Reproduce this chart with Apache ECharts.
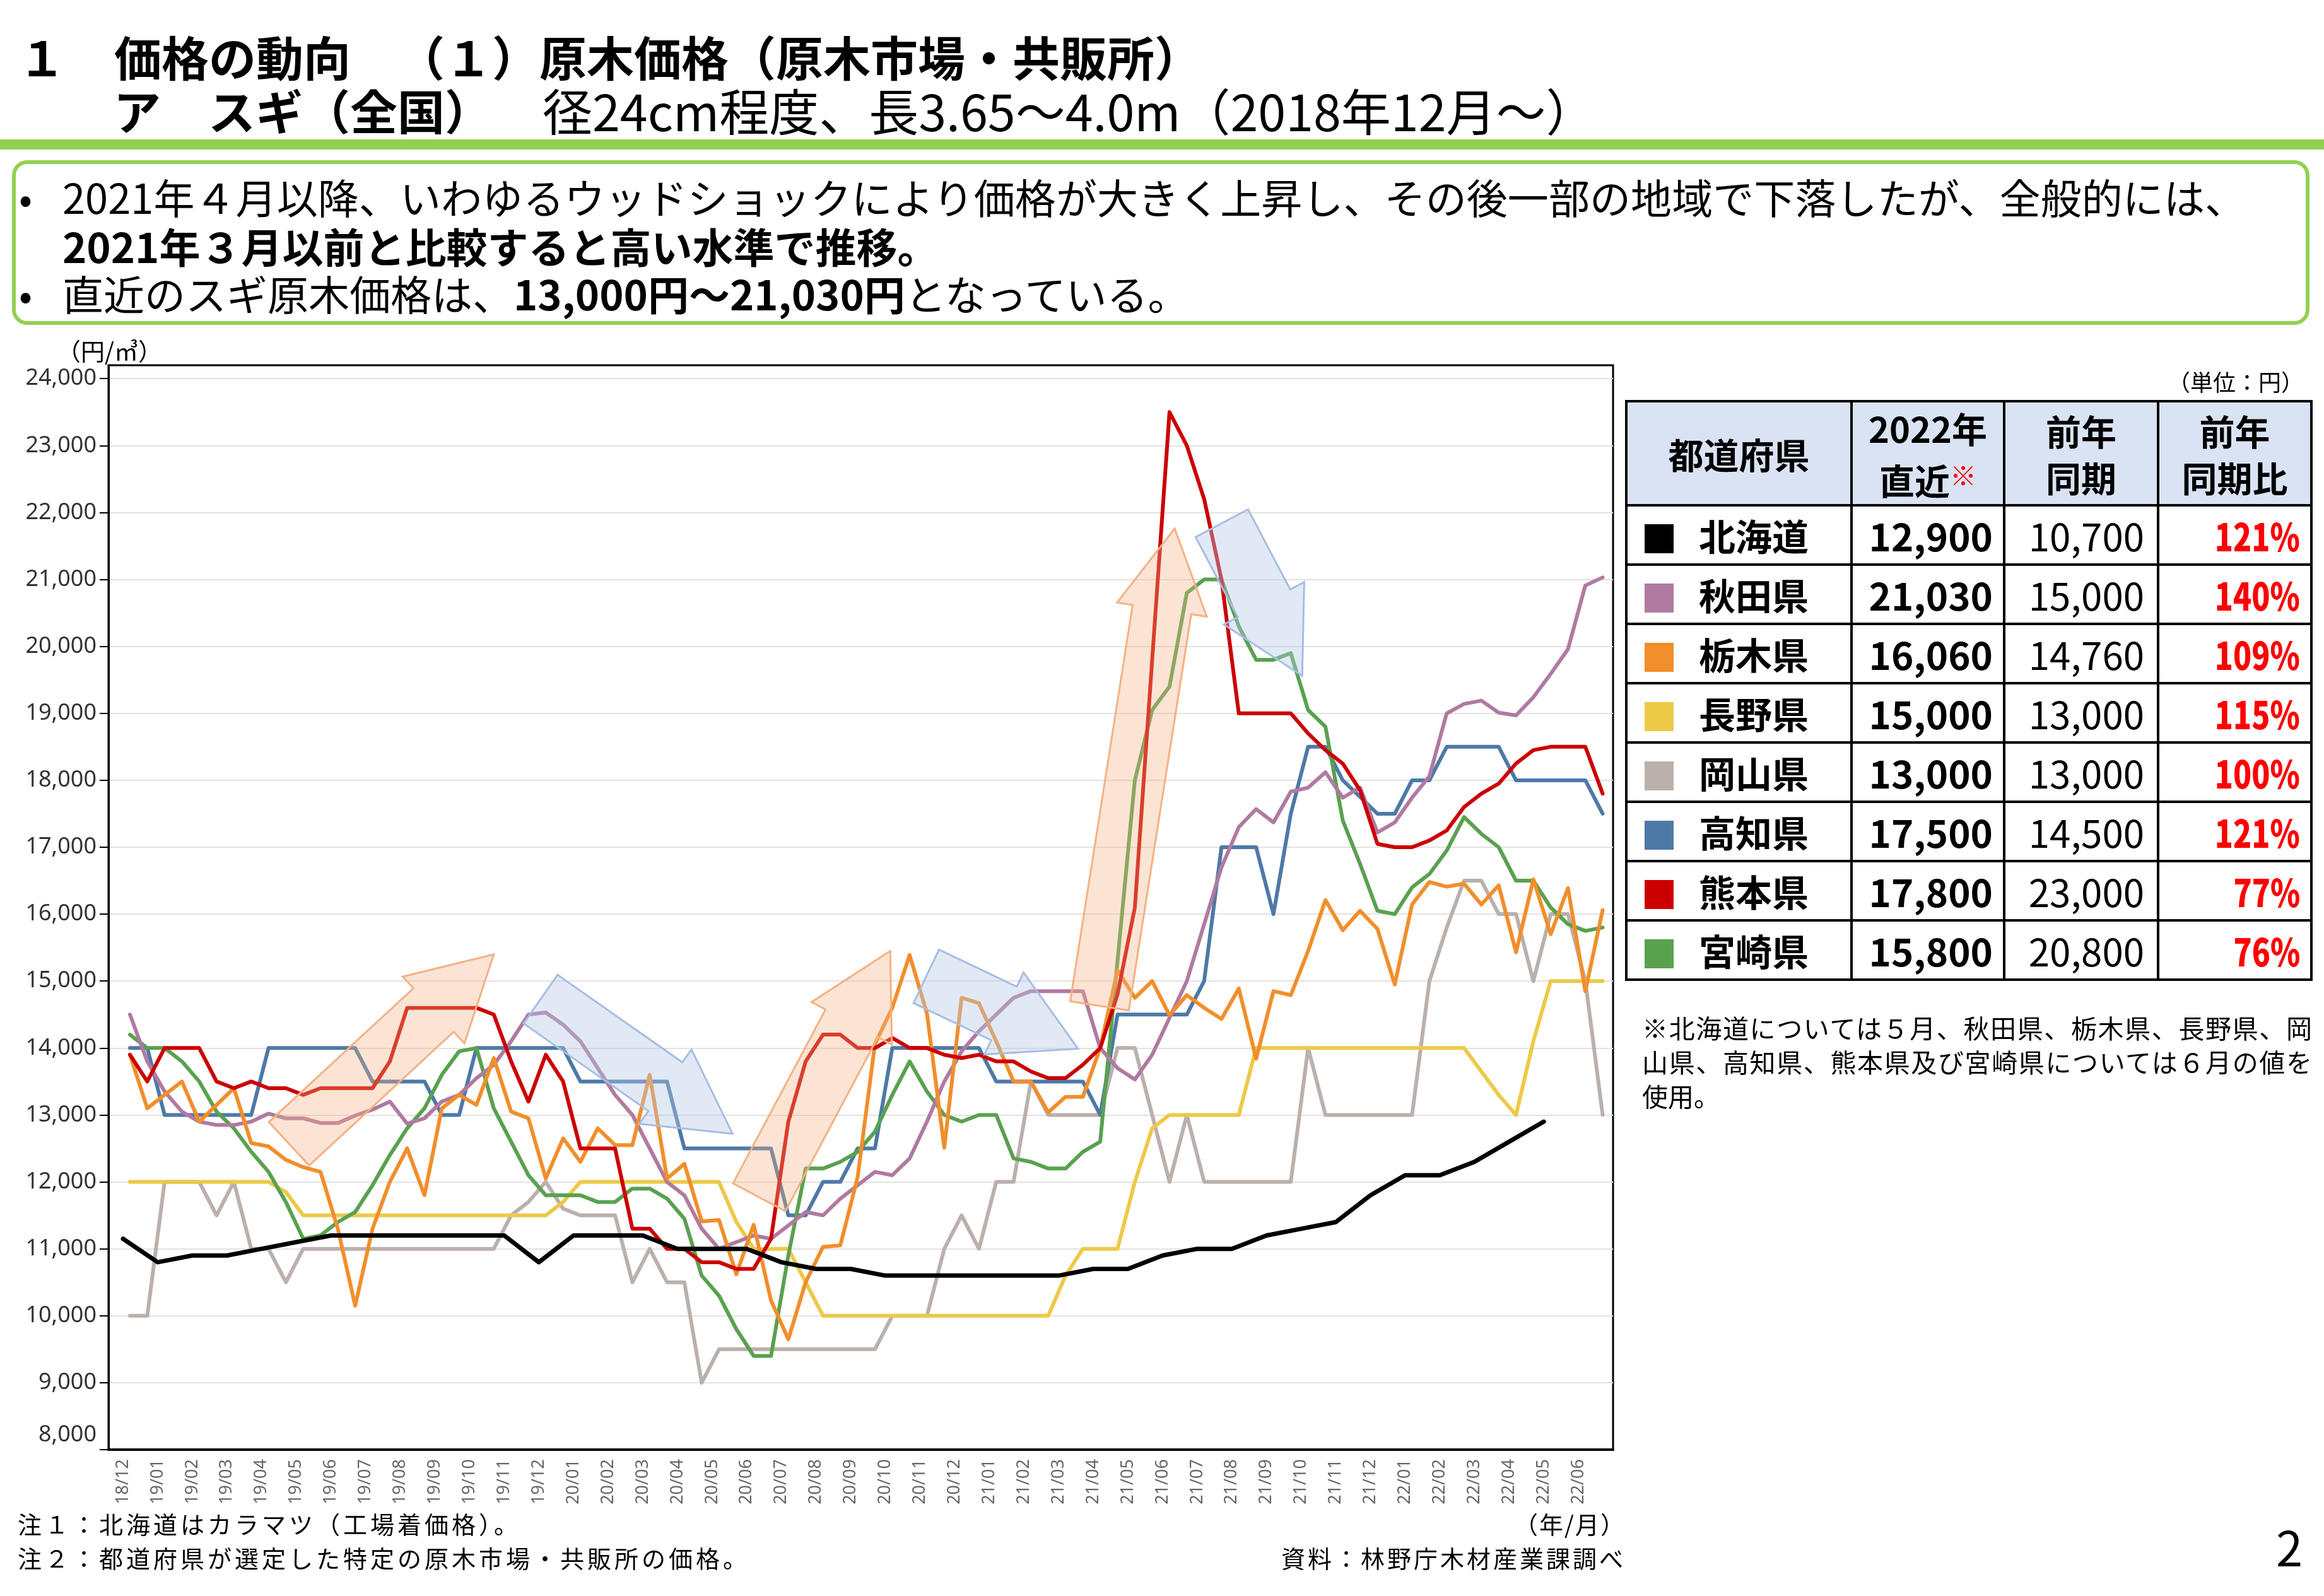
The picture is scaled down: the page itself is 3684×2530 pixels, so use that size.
<!DOCTYPE html>
<html lang="ja">
<head>
<meta charset="utf-8">
<title>スギ原木価格の動向</title>
<script src="https://cdn.jsdelivr.net/npm/echarts@6.0.0/dist/echarts.min.js"></script>
<style>
html, body { margin: 0; padding: 0; background: #fff; }
body { width: 3684px; height: 2530px; position: relative; overflow: hidden;
  font-family: "Noto Sans CJK JP", "Noto Sans", sans-serif; color: #000; }
#chart { position: absolute; left: 0; top: 0; width: 3684px; height: 2530px; }
.abs { position: absolute; white-space: nowrap; z-index: 2; line-height: 1; }
.t1 { font-size: 75px; font-weight: 700; }
.bar { position: absolute; left: 0; top: 221px; width: 3684px; height: 16px; background: #92d050; }
.box { position: absolute; left: 19px; top: 254px; width: 3642px; height: 261px; box-sizing: border-box;
  border: 6px solid #92d050; border-radius: 24px; }
.bl { font-size: 65px; }
.dot { position: absolute; left: 30px; font-size: 62px; line-height: 1; z-index: 2; }
.note { font-size: 38px; letter-spacing: 5px; }
#tbl { position: absolute; left: 2576px; top: 634px; width: 1086px; border-collapse: collapse;
  table-layout: fixed; z-index: 2; }
#tbl th, #tbl td { border: 4px solid #000; padding: 0; line-height: 1; }
#tbl th { background: #dae3f3; font-size: 56px; font-weight: 700; line-height: 74px; height: 161px; }
#tbl td { height: 90px; font-size: 60px; }
#tbl td.nm { font-size: 58px; font-weight: 700; padding-left: 27px; white-space: nowrap; }
#tbl td.nm span { display: inline-block; width: 46px; height: 46px; margin-right: 40px; vertical-align: -4px; }
#tbl td.v1 { font-weight: 700; text-align: right; padding-right: 16px; }
#tbl td.v2 { text-align: right; padding-right: 20px; }
#tbl td.v3 { font-weight: 700; color: #ff0000; text-align: right; padding-right: 16px; }
#tbl td.v3 b { display: inline-block; transform: scaleX(0.8); transform-origin: right center; }
.kome { color: #ff0000; font-size: 42px; vertical-align: 14px; }
</style>
</head>
<body>
<div id="chart"></div>

<div class="abs t1" style="left:29px; top:51px;">１</div>
<div class="abs t1" style="left:181px; top:51px;">価格の動向</div>
<div class="abs t1" style="left:630px; top:51px;">（１）原木価格（原木市場・共販所）</div>
<div class="abs t1" style="left:180px; top:136px;">ア　スギ（全国）</div>
<div class="abs" style="left:860px; top:134px; font-size:79px;">径24cm程度、長3.65～4.0m（2018年12月～）</div>
<div class="bar"></div>
<div class="box"></div>
<div class="dot" style="top:280px;">•</div>
<div class="abs bl" style="left:99px; top:279px; width:3461px; text-align:justify; text-align-last:justify;">2021年４月以降、いわゆるウッドショックにより価格が大きく上昇し、その後一部の地域で下落したが、全般的には、</div>
<div class="abs bl" style="left:99px; top:357px; font-weight:700;">2021年３月以前と比較すると高い水準で推移。</div>
<div class="dot" style="top:433px;">•</div>
<div class="abs bl" style="left:99px; top:432px;">直近のスギ原木価格は、<b>13,000円～21,030円</b>となっている。</div>

<div class="abs" style="left:90px; top:536px; font-size:38px;">（円/㎥）</div>
<div class="abs" style="left:3436px; top:586px; font-size:36px;">（単位：円）</div>
<table id="tbl">
  <colgroup><col style="width:357px"><col style="width:242px"><col style="width:244px"><col style="width:243px"></colgroup>
  <tbody id="tbody">
    <tr><th>都道府県</th><th>2022年<br>直近<span class="kome">※</span></th><th>前年<br>同期</th><th>前年<br>同期比</th></tr>
  </tbody>
</table>
<div class="abs" style="left:2603px; top:1601px; width:1062px; font-size:41px; line-height:54px; white-space:normal; text-align:justify;">※北海道については５月、秋田県、栃木県、長野県、岡山県、高知県、熊本県及び宮崎県については６月の値を使用。</div>

<div class="abs note" style="left:28px; top:2396px;">注１：北海道はカラマツ（工場着価格）。</div>
<div class="abs note" style="left:28px; top:2450px;">注２：都道府県が選定した特定の原木市場・共販所の価格。</div>
<div class="abs note" style="right:1107px; top:2396px; letter-spacing:2px;">（年/月）</div>
<div class="abs note" style="right:1107px; top:2450px; letter-spacing:4px;">資料：林野庁木材産業課調べ</div>
<div class="abs" style="left:3608px; top:2412px; font-size:76px;">2</div>

<script>
// 月ラベル（横軸）と縦軸目盛
const months = ['18/12', '19/01', '19/02', '19/03', '19/04', '19/05', '19/06', '19/07', '19/08', '19/09',
  '19/10', '19/11', '19/12', '20/01', '20/02', '20/03', '20/04', '20/05', '20/06', '20/07',
  '20/08', '20/09', '20/10', '20/11', '20/12', '21/01', '21/02', '21/03', '21/04', '21/05',
  '21/06', '21/07', '21/08', '21/09', '21/10', '21/11', '21/12', '22/01', '22/02', '22/03',
  '22/04', '22/05', '22/06']
const yTicks = [8000, 9000, 10000, 11000, 12000, 13000, 14000, 15000, 16000, 17000,
  18000, 19000, 20000, 21000, 22000, 23000, 24000]

// 北海道は月次、他は半月ごと（円/㎥）
const hokkaido = [11150, 10800, 10900, 10900, 11000, 11100, 11200, 11200, 11200, 11200,
  11200, 11200, 10800, 11200, 11200, 11200, 11000, 11000, 11000, 10800,
  10700, 10700, 10600, 10600, 10600, 10600, 10600, 10600, 10700, 10700,
  10900, 11000, 11000, 11200, 11300, 11400, 11800, 12100, 12100, 12300,
  12600, 12900]
const akita = [14500, 13800, 13350, 13050, 12900, 12850, 12850, 12900, 13020, 12950,
  12950, 12880, 12880, 12990, 13080, 13200, 12870, 12950, 13200, 13300,
  13550, 13750, 14100, 14500, 14530, 14350, 14100, 13700, 13300, 13000,
  12500, 12000, 11800, 11300, 11000, 11100, 11200, 11150, 11350, 11550,
  11500, 11750, 11950, 12150, 12100, 12350, 12900, 13500, 13950, 14250,
  14500, 14750, 14850, 14850, 14850, 14850, 14000, 13700, 13530, 13900,
  14450, 15000, 15850, 16700, 17300, 17570, 17370, 17830, 17890, 18120,
  17740, 17890, 17220, 17370, 17740, 18060, 19000, 19140, 19190, 19010,
  18970, 19240, 19590, 19960, 20910, 21030]
const tochigi = [13900, 13100, 13300, 13500, 12900, 13150, 13400, 12580, 12530, 12330,
  12220, 12150, 11300, 10150, 11300, 12000, 12500, 11800, 13100, 13300,
  13150, 13850, 13050, 12950, 12050, 12650, 12300, 12800, 12550, 12550,
  13600, 12050, 12270, 11410, 11430, 10620, 11360, 10230, 9650, 10500,
  11030, 11050, 12070, 14060, 14600, 15390, 14520, 12510, 14750, 14670,
  14100, 13500, 13500, 13040, 13270, 13270, 14000, 15160, 14750, 15000,
  14490, 14790, 14600, 14435, 14890, 13840, 14850, 14790, 15450, 16210,
  15760, 16050, 15780, 14950, 16145, 16480, 16410, 16455, 16145, 16430,
  15430, 16520, 15700, 16390, 14850, 16060]
const nagano = [12000, 12000, 12000, 12000, 12000, 12000, 12000, 12000, 12000, 11850,
  11500, 11500, 11500, 11500, 11500, 11500, 11500, 11500, 11500, 11500,
  11500, 11500, 11500, 11500, 11500, 11700, 12000, 12000, 12000, 12000,
  12000, 12000, 12000, 12000, 12000, 11400, 11000, 11000, 11000, 10500,
  10000, 10000, 10000, 10000, 10000, 10000, 10000, 10000, 10000, 10000,
  10000, 10000, 10000, 10000, 10600, 11000, 11000, 11000, 12000, 12800,
  13000, 13000, 13000, 13000, 13000, 14000, 14000, 14000, 14000, 14000,
  14000, 14000, 14000, 14000, 14000, 14000, 14000, 14000, 13650, 13300,
  13000, 14100, 15000, 15000, 15000, 15000]
const okayama = [10000, 10000, 12000, 12000, 12000, 11500, 12000, 11000, 11000, 10500,
  11000, 11000, 11000, 11000, 11000, 11000, 11000, 11000, 11000, 11000,
  11000, 11000, 11500, 11700, 12000, 11600, 11500, 11500, 11500, 10500,
  11000, 10500, 10500, 9000, 9500, 9500, 9500, 9500, 9500, 9500,
  9500, 9500, 9500, 9500, 10000, 10000, 10000, 11000, 11500, 11000,
  12000, 12000, 13500, 13000, 13000, 13000, 13000, 14000, 14000, 13000,
  12000, 13000, 12000, 12000, 12000, 12000, 12000, 12000, 14000, 13000,
  13000, 13000, 13000, 13000, 13000, 15000, 15800, 16500, 16500, 16000,
  16000, 15000, 16000, 16000, 15000, 13000]
const kochi = [14000, 14000, 13000, 13000, 13000, 13000, 13000, 13000, 14000, 14000,
  14000, 14000, 14000, 14000, 13500, 13500, 13500, 13500, 13000, 13000,
  14000, 14000, 14000, 14000, 14000, 14000, 13500, 13500, 13500, 13500,
  13500, 13500, 12500, 12500, 12500, 12500, 12500, 12500, 11500, 11500,
  12000, 12000, 12500, 12500, 14000, 14000, 14000, 14000, 14000, 14000,
  13500, 13500, 13500, 13500, 13500, 13500, 13000, 14500, 14500, 14500,
  14500, 14500, 15000, 17000, 17000, 17000, 16000, 17500, 18500, 18500,
  18000, 17750, 17500, 17500, 18000, 18000, 18500, 18500, 18500, 18500,
  18000, 18000, 18000, 18000, 18000, 17500]
const kumamoto = [13900, 13500, 14000, 14000, 14000, 13500, 13400, 13500, 13400, 13400,
  13300, 13400, 13400, 13400, 13400, 13800, 14600, 14600, 14600, 14600,
  14600, 14500, 13800, 13200, 13900, 13500, 12500, 12500, 12500, 11300,
  11300, 11000, 11000, 10800, 10800, 10700, 10700, 11150, 12900, 13800,
  14200, 14200, 14000, 14000, 14150, 14000, 14000, 13900, 13850, 13900,
  13800, 13800, 13650, 13550, 13550, 13750, 14000, 14800, 16100, 19800,
  23500, 23000, 22200, 21000, 19000, 19000, 19000, 19000, 18700, 18450,
  18250, 17850, 17050, 17000, 17000, 17100, 17250, 17600, 17800, 17950,
  18250, 18450, 18500, 18500, 18500, 17800]
const miyazaki = [14200, 14000, 14000, 13800, 13500, 13050, 12800, 12450, 12150, 11700,
  11150, 11200, 11400, 11550, 11950, 12400, 12800, 13100, 13600, 13950,
  14000, 13100, 12600, 12100, 11800, 11800, 11800, 11700, 11700, 11900,
  11900, 11750, 11450, 10600, 10300, 9800, 9400, 9400, 10900, 12200,
  12200, 12300, 12450, 12750, 13300, 13800, 13350, 13000, 12900, 13000,
  13000, 12350, 12300, 12200, 12200, 12450, 12600, 15300, 18000, 19050,
  19400, 20800, 21000, 21000, 20300, 19800, 19800, 19900, 19050, 18800,
  17400, 16750, 16050, 16000, 16400, 16600, 16950, 17450, 17200, 17000,
  16500, 16500, 16100, 15850, 15750, 15800]

// 右の表
const prefs = ['北海道', '秋田県', '栃木県', '長野県', '岡山県', '高知県', '熊本県', '宮崎県']
const latest = ['12,900', '21,030', '16,060', '15,000', '13,000', '17,500', '17,800', '15,800']
const prevYear = ['10,700', '15,000', '14,760', '13,000', '13,000', '14,500', '23,000', '20,800']
const ratio = ['121%', '140%', '109%', '115%', '100%', '121%', '77%', '76%']
const colors = ['#000000', '#b07aa1', '#f28e2b', '#edc948', '#bab0ac', '#4e79a7', '#cc0000', '#59a14f']

// 矢印（月, 価格）: 始点 → 先端
const upArrows = [[[4.79, 12570], [10.7, 15400]], [[18.36, 11770], [22.14, 15450]], [[28.18, 14630], [30.35, 21760]]]
const downArrows = [[[12.05, 14730], [17.59, 12720]], [[23.18, 15070], [27.56, 13990]], [[31.71, 21840], [34.03, 19560]]]

const tbody = document.getElementById('tbody')
prefs.forEach((p, i) => {
  const tr = document.createElement('tr')
  tr.innerHTML = `<td class="nm"><span style="background:${colors[i]}"></span>${p}</td>` +
    `<td class="v1">${latest[i]}</td><td class="v2">${prevYear[i]}</td><td class="v3"><b>${ratio[i]}</b></td>`
  tbody.appendChild(tr)
})

const half = (arr) => arr.map((v, i) => [i / 2 + 0.2, v])
const monthly = (arr) => arr.map((v, i) => [i, v])

function line(name, data, color, width, z) {
  return {
    type: 'line', name, data, xAxisIndex: 1, yAxisIndex: 1, z,
    showSymbol: false, symbol: 'none', silent: true,
    lineStyle: { color, width, cap: 'round', join: 'round' },
    itemStyle: { color },
  }
}

const chart = echarts.init(document.getElementById('chart'))

const option = {
  animation: false,
  grid: [
    { left: 172, right: 1127, top: 579, bottom: 232, show: true, borderColor: '#000', borderWidth: 3,
      backgroundColor: 'transparent', outerBoundsMode: 'none' },
    { left: 140.07, right: 1127, top: 579, bottom: 232, outerBoundsMode: 'none' },
  ],
  xAxis: [
    { gridIndex: 0, type: 'value', min: 0, max: 1,
      axisLine: { show: true, lineStyle: { color: '#000', width: 4 } },
      axisTick: { show: false }, axisLabel: { show: false }, splitLine: { show: false } },
    { gridIndex: 1, type: 'value', min: -1, max: 43, interval: 1,
      axisLine: { show: false }, axisTick: { show: false }, splitLine: { show: false },
      axisLabel: {
        rotate: 90, margin: 15, fontSize: 27, color: '#666', fontFamily: 'Noto Sans',
        formatter: (v) => months[v] || '',
      } },
  ],
  yAxis: [
    { gridIndex: 0, type: 'value', min: 8000, max: 24200, interval: 1000,
      axisLine: { show: true, lineStyle: { color: '#000', width: 3 } },
      axisTick: { show: true, length: 14, lineStyle: { color: '#000', width: 2 }, customValues: yTicks },
      splitLine: { lineStyle: { color: '#e2e2e2', width: 2 } },
      axisLabel: {
        margin: 19, fontSize: 36, color: '#333', fontFamily: 'Noto Sans', customValues: yTicks,
        formatter: (v) => {
          if (v % 1000 !== 0) return ''
          const s = v.toLocaleString('en-US')
          return v === 8000 ? '{lo|' + s + '}' : s
        },
        rich: { lo: { fontSize: 36, color: '#333', fontFamily: 'Noto Sans', padding: [0, 0, 46, 0] } },
      } },
    { gridIndex: 1, type: 'value', min: 8000, max: 24200, show: false },
  ],
  series: [
    line('岡山県', half(okayama), colors[4], 6, 2),
    line('長野県', half(nagano), colors[3], 6, 3),
    line('高知県', half(kochi), colors[5], 6, 4),
    line('宮崎県', half(miyazaki), colors[7], 6, 5),
    line('秋田県', half(akita), colors[1], 6, 6),
    line('栃木県', half(tochigi), colors[2], 6, 7),
    line('熊本県', half(kumamoto), colors[6], 6, 8),
    line('北海道', monthly(hokkaido), colors[0], 7, 9),
  ],
}
chart.setOption(option)

// 矢印を軸の座標から描く
function arrowPoints(from, to) {
  const a = chart.convertToPixel({ gridIndex: 1 }, from)
  const b = chart.convertToPixel({ gridIndex: 1 }, to)
  const len = Math.hypot(b[0] - a[0], b[1] - a[1])
  const dx = (b[0] - a[0]) / len
  const dy = (b[1] - a[1]) / len
  const nx = -dy
  const ny = dx
  const body = 47
  const head = 72
  const headLen = 130
  const n = [b[0] - dx * headLen, b[1] - dy * headLen]
  return [
    [a[0] + nx * body, a[1] + ny * body],
    [n[0] + nx * body, n[1] + ny * body],
    [n[0] + nx * head, n[1] + ny * head],
    b,
    [n[0] - nx * head, n[1] - ny * head],
    [n[0] - nx * body, n[1] - ny * body],
    [a[0] - nx * body, a[1] - ny * body],
  ]
}

const elements = []
upArrows.forEach(([f, t]) => elements.push({
  type: 'polygon', z: 50, silent: true, shape: { points: arrowPoints(f, t) },
  style: { fill: 'rgba(244, 177, 131, 0.35)', stroke: '#f4b183', lineWidth: 3 },
}))
downArrows.forEach(([f, t]) => elements.push({
  type: 'polygon', z: 50, silent: true, shape: { points: arrowPoints(f, t) },
  style: { fill: 'rgba(180, 199, 231, 0.4)', stroke: '#a6bee3', lineWidth: 3 },
}))
chart.setOption({ graphic: { elements } })
</script>
</body>
</html>
